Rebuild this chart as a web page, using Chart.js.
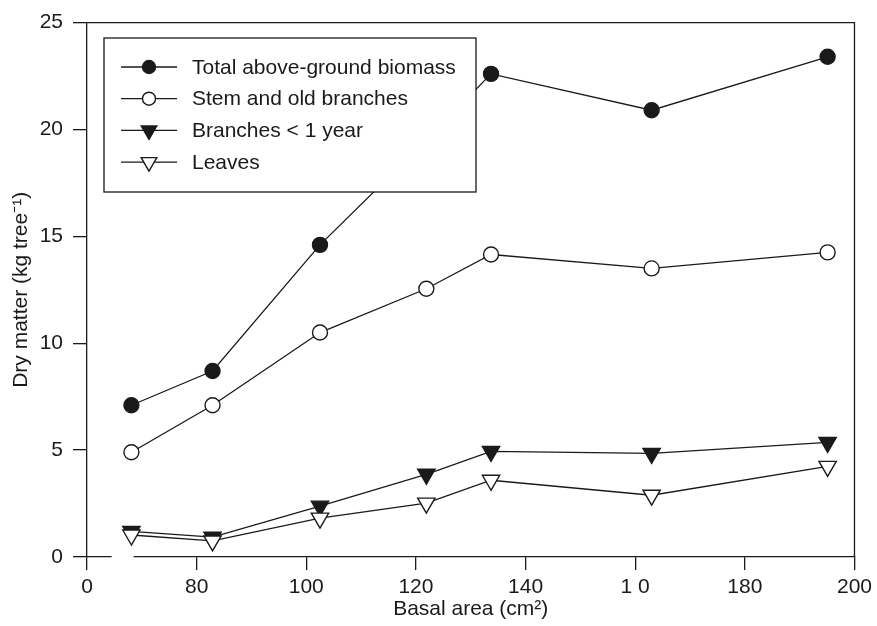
<!DOCTYPE html>
<html><head><meta charset="utf-8">
<script src="https://cdn.jsdelivr.net/npm/chart.js@4"></script>
<style>html,body{margin:0;padding:0;background:#fff}#wrap{width:877px;height:626px}</style>
</head><body><div id="wrap"><canvas id="c" width="877" height="626"></canvas></div>
<script>
const basalArea = [68.1, 82.9, 102.5, 121.9, 133.7, 163.0, 195.1];
const totalBiomass = [7.1, 8.7, 14.6, 19.5, 22.6, 20.9, 23.4];
const stemOldBranches = [4.9, 7.1, 10.5, 12.55, 14.15, 13.5, 14.25];
const branchesUnder1yr = [1.2, 0.93, 2.38, 3.87, 4.94, 4.85, 5.36];
const leaves = [1.03, 0.75, 1.82, 2.52, 3.59, 2.89, 4.24];
const seriesNames = ['Total above-ground biomass', 'Stem and old branches', 'Branches < 1 year', 'Leaves'];
const xTickValues = [60, 80, 100, 120, 140, 160, 180, 200];
const xTickLabels = ['0', '80', '100', '120', '140', '1 0', '180', '200'];
const yTickValues = [0, 5, 10, 15, 20, 25];
const xTitle = 'Basal area (cm²)';
const yTitle = 'Dry matter (kg tree⁻¹)';

const INK = '#1a1a1a';
const FONT = '"Liberation Sans", Arial, Helvetica, sans-serif';
const toXY = (ys) => basalArea.map((x, i) => ({x: x, y: ys[i]}));

const styles = [
  {pointStyle: 'circle', rotation: 0, fill: INK, radius: 7.5, legendRadius: 6.5},
  {pointStyle: 'circle', rotation: 0, fill: '#fff', radius: 7.5, legendRadius: 6.5},
  {pointStyle: 'triangle', rotation: 180, fill: INK, radius: 10, legendRadius: 9},
  {pointStyle: 'triangle', rotation: 180, fill: '#fff', radius: 10, legendRadius: 9}
];
const seriesData = [totalBiomass, stemOldBranches, branchesUnder1yr, leaves];
const drawOrder = [3, 2, 1, 0];

const datasets = seriesData.map((d, i) => ({
  label: seriesNames[i],
  data: toXY(d),
  borderColor: INK,
  borderWidth: 1.3,
  pointStyle: styles[i].pointStyle,
  pointRotation: styles[i].rotation,
  pointRadius: styles[i].radius,
  pointHoverRadius: styles[i].radius,
  pointBackgroundColor: styles[i].fill,
  pointBorderColor: INK,
  pointBorderWidth: 1.4,
  fill: false,
  tension: 0,
  order: drawOrder[i]
}));

function drawMarker(ctx, st, x, y, r) {
  ctx.save();
  ctx.beginPath();
  if (st.pointStyle === 'circle') {
    ctx.arc(x, y, r, 0, Math.PI * 2);
  } else {
    // downward triangle with centroid at (x,y)
    ctx.moveTo(x, y + r);
    ctx.lineTo(x - r * Math.sqrt(3) / 2, y - r / 2);
    ctx.lineTo(x + r * Math.sqrt(3) / 2, y - r / 2);
    ctx.closePath();
  }
  ctx.fillStyle = st.fill;
  ctx.fill();
  ctx.lineWidth = 1.4;
  ctx.strokeStyle = INK;
  ctx.stroke();
  ctx.restore();
}

const framePlugin = {
  id: 'frameAndLegend',
  afterDatasetsDraw(chart) {
    const ctx = chart.ctx;
    const a = chart.chartArea;
    const xs = chart.scales.x;
    ctx.save();
    // top and right frame lines
    ctx.strokeStyle = INK;
    ctx.lineWidth = 1.3;
    ctx.beginPath();
    ctx.moveTo(a.left, a.top);
    ctx.lineTo(a.right, a.top);
    ctx.lineTo(a.right, a.bottom);
    ctx.stroke();
    // axis break on x axis
    const g0 = xs.getPixelForValue(64.5);
    const g1 = xs.getPixelForValue(68.5);
    ctx.fillStyle = '#fff';
    ctx.fillRect(g0, a.bottom - 2, g1 - g0, 4);
    // legend box
    const box = {left: 104, top: 38, right: 476, bottom: 192};
    ctx.fillStyle = '#fff';
    ctx.fillRect(box.left, box.top, box.right - box.left, box.bottom - box.top);
    ctx.strokeStyle = INK;
    ctx.lineWidth = 1.3;
    ctx.strokeRect(box.left, box.top, box.right - box.left, box.bottom - box.top);
    ctx.font = '21px ' + FONT;
    ctx.textBaseline = 'middle';
    ctx.textAlign = 'left';
    seriesNames.forEach((name, i) => {
      const y = box.top + 29 + i * 31.7;
      ctx.beginPath();
      ctx.strokeStyle = INK;
      ctx.lineWidth = 1.3;
      ctx.moveTo(121, y);
      ctx.lineTo(177, y);
      ctx.stroke();
      drawMarker(ctx, styles[i], 149, y, styles[i].legendRadius);
      ctx.fillStyle = INK;
      ctx.fillText(name, 192, y + 1);
    });
    ctx.restore();
  }
};

new Chart(document.getElementById('c'), {
  type: 'line',
  data: {datasets: datasets},
  options: {
    responsive: false,
    animation: false,
    devicePixelRatio: 1,
    layout: {padding: {top: 21, right: 22, left: 0, bottom: 0}},
    plugins: {legend: {display: false}, tooltip: {enabled: false}},
    scales: {
      x: {
        type: 'linear',
        min: 60, max: 200,
        afterBuildTicks: (s) => { s.ticks = xTickValues.map(v => ({value: v})); },
        afterFit: (s) => { s.height = 69; },
        ticks: {
          autoSkip: false,
          maxRotation: 0,
          padding: 5,
          color: INK,
          font: {family: FONT, size: 21},
          callback: (v) => { const k = xTickValues.indexOf(v); return k >= 0 ? xTickLabels[k] : ''; }
        },
        grid: {display: true, drawOnChartArea: false, drawTicks: true, tickLength: 13, color: INK, lineWidth: 1.3},
        border: {display: true, color: INK, width: 1.3},
        title: {display: true, text: xTitle, color: INK, font: {family: FONT, size: 21}, padding: {top: 0, bottom: 4}}
      },
      y: {
        type: 'linear',
        min: 0, max: 25,
        afterBuildTicks: (s) => { s.ticks = yTickValues.map(v => ({value: v})); },
        afterFit: (s) => { s.width = 87; },
        ticks: {
          padding: 10,
          color: INK,
          font: {family: FONT, size: 21}
        },
        grid: {display: true, drawOnChartArea: false, drawTicks: true, tickLength: 14, color: INK, lineWidth: 1.3},
        border: {display: true, color: INK, width: 1.3},
        title: {display: true, text: yTitle, color: INK, font: {family: FONT, size: 21}, padding: {top: 9, bottom: 0}}
      }
    }
  },
  plugins: [framePlugin]
});
</script>
</body></html>
